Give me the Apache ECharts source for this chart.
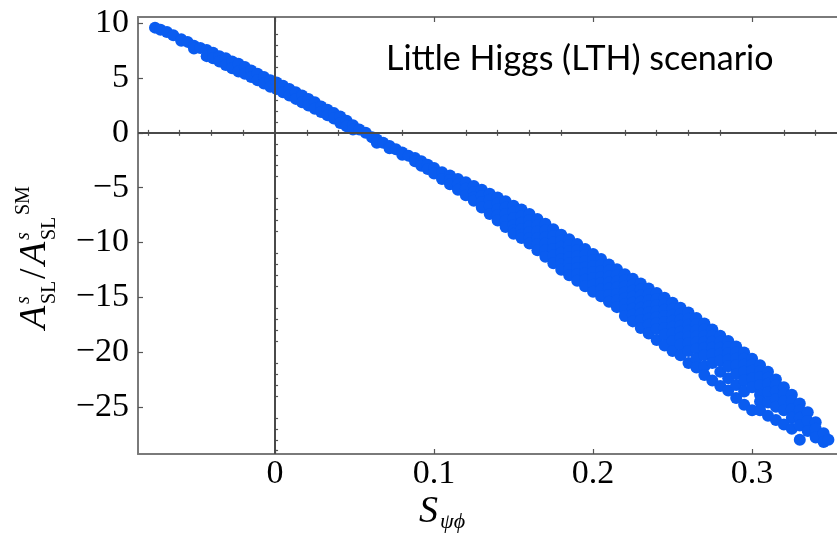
<!DOCTYPE html>
<html><head><meta charset="utf-8">
<script src="https://cdn.jsdelivr.net/npm/echarts@6/dist/echarts.min.js"></script>
<style>html,body{margin:0;padding:0;background:#fff}#c{width:837px;height:536px}</style>
</head><body><div id="c"></div>
<script>
// Axis ranges and tick values
const xRange = [-0.0862, 0.3534];
const yRange = [-29.3, 10.57];
const xMajorTicks = [0, 0.1, 0.2, 0.3];
const xMinorTicks = [-0.08,-0.06,-0.04,-0.02,0.02,0.04,0.06,0.08,0.12,0.14,0.16,0.18,0.22,0.24,0.26,0.28,0.32,0.34];
const yMajorTicks = [-25,-20,-15,-10,-5,0,5,10];
const yMinorTicks = [-29,-28,-27,-26,-24,-23,-22,-21,-19,-18,-17,-16,-14,-13,-12,-11,-9,-8,-7,-6,-4,-3,-2,-1,1,2,3,4,6,7,8,9];

// Scatter points, column-wise: [S_psiphi, A/A_SM values...]
const leftArm = [
 [-0.0755,9.6],[-0.072,9.4],[-0.068,9.2],[-0.064,8.9],[-0.059,8.55,8.4],[-0.055,8.3],
 [-0.051,7.95,7.7],[-0.047,7.75],[-0.043,7.55,7.0],[-0.039,7.3,6.8],[-0.035,7.0,6.5],
 [-0.031,6.8,6.2],[-0.027,6.5,5.9],[-0.023,6.3,5.6],[-0.019,6.0,5.4],[-0.015,5.7,5.1],
 [-0.011,5.4,4.8],[-0.007,5.1,4.5],[-0.003,4.8,4.2],[0.001,4.6,4.0],[0.005,4.3,3.7],
 [0.009,4.0,3.4],[0.013,3.7,3.1],[0.017,3.4,2.8],[0.021,3.1,2.5],[0.025,2.8,2.2],
 [0.029,2.4,1.9],[0.033,2.1,1.6],[0.037,1.8,1.3],[0.041,1.5,0.9],[0.045,1.1,0.6],
 [0.049,0.7,0.3],[0.053,0.3],[0.057,0.0],[0.061,-0.4],[0.064,-0.6,-0.9],[0.068,-0.9],
 [0.072,-1.2,-1.4],[0.076,-1.5],[0.080,-1.8,-2.0],[0.084,-2.1],[0.088,-2.3,-2.6],
 [0.092,-2.6,-3.0],[0.096,-2.9,-3.3],[0.100,-3.2,-3.7]
];
const mainBand = [
 [0.105,-3.6,-4.2],[0.11,-3.9,-4.3,-4.7],[0.115,-4.2,-4.7,-5.2],[0.12,-4.5,-5.1,-5.7],
 [0.125,-4.85,-5.4,-5.9,-6.2],[0.13,-5.2,-5.75,-6.3,-6.8],[0.135,-5.55,-6.1,-6.7,-7.4],
 [0.14,-5.9,-6.45,-7.0,-7.5,-8.0],[0.145,-6.25,-6.8,-7.4,-8.0,-8.6],
 [0.15,-6.65,-7.2,-7.8,-8.4,-8.9,-9.2],[0.155,-7.0,-7.6,-8.2,-8.8,-9.3,-9.6],
 [0.16,-7.4,-7.95,-8.5,-9.05,-9.6,-10.1],[0.165,-7.85,-8.4,-9.0,-9.6,-10.15,-10.7],
 [0.17,-8.3,-8.9,-9.5,-10.1,-10.7,-11.3],[0.175,-8.8,-9.4,-10.0,-10.6,-11.2,-11.9],
 [0.18,-9.3,-9.85,-10.4,-10.95,-11.5,-12.0,-12.5],[0.185,-9.7,-10.25,-10.8,-11.35,-11.9,-12.45,-13.0],
 [0.19,-10.15,-10.7,-11.25,-11.8,-12.35,-12.9,-13.5],[0.195,-10.6,-11.15,-11.7,-12.25,-12.8,-13.4,-14.0],
 [0.2,-11.05,-11.6,-12.15,-12.7,-13.25,-13.85,-14.5],[0.205,-11.5,-12.05,-12.6,-13.15,-13.7,-14.3,-14.9],
 [0.21,-12.0,-12.55,-13.1,-13.65,-14.2,-14.8,-15.4],[0.215,-12.45,-13.0,-13.55,-14.1,-14.7,-15.3,-15.9],
 [0.22,-12.9,-13.45,-14.0,-14.55,-15.1,-15.65,-16.2,-16.7],[0.225,-13.3,-13.85,-14.4,-14.95,-15.5,-16.05,-16.6,-17.2],
 [0.23,-13.75,-14.3,-14.85,-15.4,-15.95,-16.5,-17.1,-17.8],[0.235,-14.2,-14.75,-15.3,-15.85,-16.4,-16.95,-17.5,-18.3],
 [0.24,-14.6,-15.15,-15.7,-16.25,-16.8,-17.35,-17.9,-18.9],[0.245,-15.05,-15.6,-16.15,-16.7,-17.25,-17.8,-18.4,-19.4],
 [0.25,-15.5,-16.05,-16.6,-17.15,-17.7,-18.3,-19.0,-19.9]
];
const tail = [
 [0.255,-15.95,-16.5,-17.05,-17.6,-18.15,-18.7,-19.3,-20.3],[0.26,-16.4,-16.95,-17.5,-18.05,-18.6,-19.2,-19.9,-21.0],
 [0.265,-16.9,-17.45,-18.0,-18.55,-19.1,-19.7,-20.6,-21.4],[0.27,-17.4,-17.95,-18.5,-19.05,-19.6,-20.3,-21.3,-22.1],
 [0.275,-17.95,-18.5,-19.05,-19.6,-20.2,-21.0,-22.6],[0.28,-18.5,-19.05,-19.6,-20.15,-20.8,-21.8,-23.1],
 [0.285,-19.0,-19.55,-20.1,-20.7,-21.3,-22.4,-23.5],[0.29,-19.5,-20.05,-20.6,-21.2,-22.0,-23.0,-24.2],
 [0.295,-20.05,-20.6,-21.15,-21.8,-22.6,-23.6,-24.8],[0.30,-20.6,-21.15,-21.7,-22.4,-23.2,-25.3],
 [0.305,-21.2,-21.75,-22.3,-23.0,-23.9,-24.5,-25.3],[0.31,-21.8,-22.35,-22.9,-23.7,-24.6,-25.8],
 [0.315,-22.5,-23.05,-23.6,-24.3,-25.0,-26.2],[0.32,-23.2,-23.8,-24.5,-25.3,-26.6],
 [0.325,-23.9,-24.5,-25.2,-26.0,-27.0],[0.33,-24.7,-25.3,-26.0,-26.7,-28.0],
 [0.335,-25.5,-26.3,-27.2],[0.34,-26.4,-27.0,-27.8],[0.345,-27.4,-28.2],[0.348,-28.0]
];

const points = [...leftArm, ...mainBand, ...tail].flatMap(c => c.slice(1).map(y => [c[0], y]));

const SERIF = '"Liberation Serif", "DejaVu Serif", serif';
const fmt = v => (v < 0 ? '\u2212' : '') + String(Math.abs(v));
const frameLine = { show: true, onZero: false, lineStyle: { color: '#7a7a7a', width: 2 } };
const tickStyle = { color: '#555', width: 1.2 };

function xAxisDef(pos, ticks, len, labels, line) {
  return {
    type: 'value', position: pos, min: xRange[0], max: xRange[1],
    axisLine: line ? frameLine : { show: false },
    axisTick: { show: true, inside: true, length: len, customValues: ticks, lineStyle: tickStyle },
    axisLabel: labels ? { show: true, customValues: ticks, formatter: fmt, fontFamily: SERIF, fontSize: 34, color: '#000', margin: 3 } : { show: false },
    splitLine: { show: false }
  };
}
function yAxisDef(pos, ticks, len, labels, line) {
  return {
    type: 'value', position: pos, min: yRange[0], max: yRange[1],
    axisLine: line ? frameLine : { show: false },
    axisTick: { show: true, inside: true, length: len, customValues: ticks, lineStyle: tickStyle },
    axisLabel: labels ? { show: true, customValues: ticks, formatter: fmt, fontFamily: SERIF, fontSize: 34, color: '#000', margin: 9 } : { show: false },
    splitLine: { show: false }
  };
}

const chart = echarts.init(document.getElementById('c'), null, { renderer: 'canvas' });
const big = { fontFamily: SERIF, fontStyle: 'italic', fontSize: 38, fill: '#000', verticalAlign: 'middle' };
const small = { fontFamily: SERIF, fontSize: 20, fill: '#000', verticalAlign: 'middle' };
const T = (x, y, text, base, extra) => ({ type: 'text', x: x, y: y, style: Object.assign({ text: text }, base, extra || {}) });
chart.setOption({
  animation: false,
  backgroundColor: '#fff',
  grid: { left: 138, top: 17, right: 0, bottom: 82, containLabel: false },
  xAxis: [
    xAxisDef('bottom', xMajorTicks, 5, true, true),
    xAxisDef('bottom', xMinorTicks, 3, false, false),
    xAxisDef('top', xMajorTicks, 5, false, true),
    xAxisDef('top', xMinorTicks, 3, false, false)
  ],
  yAxis: [
    yAxisDef('left', yMajorTicks, 5, true, true),
    yAxisDef('left', yMinorTicks, 3, false, false)
  ],
  series: [
    {
      type: 'line', data: [], z: 1, silent: true,
      markLine: {
        silent: true, symbol: 'none', label: { show: false },
        lineStyle: { color: '#4a4a4a', width: 2, type: 'solid' },
        data: [{ xAxis: 0 }, { yAxis: 0 }]
      }
    },
    {
      type: 'scatter', data: points, z: 3, symbol: 'circle', symbolSize: 12,
      itemStyle: { color: '#0a5cf0', opacity: 1 }
    }
  ],
  graphic: [
    { type: 'text', x: 386, y: 59, style: { text: 'Little Higgs (LTH) scenario', fontFamily: 'Lato, "Open Sans", sans-serif', fontSize: 34, fill: '#000', verticalAlign: 'middle' } },
    T(419, 512, 'S', big),
    T(440, 522, 'ψϕ', small, { fontStyle: 'italic', fontSize: 22 }),
    {
      type: 'group', x: 48, y: 243, rotation: Math.PI / 2,
      children: [
        T(-86, -13, 'A', big),
        T(-61, -24, 's', small, { fontStyle: 'italic' }),
        T(-61, 2, 'SL', small),
        T(-36, -13, '/', big, { fontStyle: 'normal' }),
        T(-22, -13, 'A', big),
        T(3, -24, 's', small, { fontStyle: 'italic' }),
        T(3, 2, 'SL', small),
        T(28, -24, 'SM', small)
      ]
    }
  ]
});
</script>
</body></html>
